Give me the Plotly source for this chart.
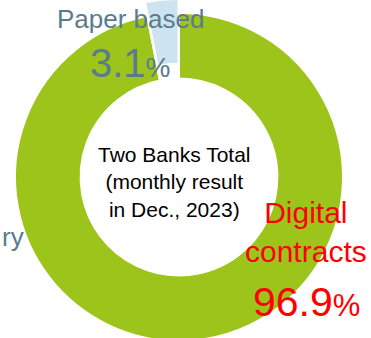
import plotly.graph_objects as go

# ---------------------------------------------
# data
# ---------------------------------------------
labels = ["Digital contracts", "Paper based"]
values = [96.9, 3.1]
colors = ["#9dc41b", "#cde3f0"]

W, H = 371, 346


def px(x):
    return x / W


def py(y):
    return 1 - y / H


fig = go.Figure()

# main ring (paper slice left empty, it is drawn pulled out below)
fig.add_trace(
    go.Pie(
        labels=labels,
        values=values,
        sort=False,
        direction="clockwise",
        rotation=0,
        hole=0.6,
        marker=dict(colors=[colors[0], "rgba(0,0,0,0)"],
                    line=dict(color="white", width=2)),
        textinfo="none",
        hoverinfo="label+percent",
        showlegend=False,
        domain=dict(x=[px(179 - 164), px(179 + 164)], y=[py(341), py(13)]),
    )
)

# pulled-out paper slice
fig.add_trace(
    go.Pie(
        labels=labels,
        values=values,
        sort=False,
        direction="clockwise",
        rotation=0,
        hole=0.61,
        marker=dict(colors=["rgba(0,0,0,0)", colors[1]],
                    line=dict(color="rgba(0,0,0,0)", width=0)),
        textinfo="none",
        hoverinfo="label+percent",
        showlegend=False,
        domain=dict(x=[px(177.5 - 161), px(177.5 + 161)], y=[py(322), 1]),
    )
)

font = "Liberation Sans, Arial, sans-serif"
grey = "#5a7b8e"

fig.add_annotation(
    x=px(174), y=py(182), xref="paper", yref="paper",
    text="Two Banks Total<br>(monthly result<br>in Dec., 2023)",
    showarrow=False, font=dict(family=font, size=21, color="black"),
    xanchor="center", yanchor="middle",
)
fig.add_annotation(
    x=px(130.5), y=py(19), xref="paper", yref="paper",
    text="Paper based",
    showarrow=False, font=dict(family=font, size=26, color=grey),
    xanchor="center", yanchor="middle",
)
fig.add_annotation(
    x=px(130.5), y=py(63), xref="paper", yref="paper",
    text="3.1<span style='font-size:28px'>%</span>",
    showarrow=False, font=dict(family=font, size=40, color=grey),
    xanchor="center", yanchor="middle",
)
fig.add_annotation(
    x=px(0), y=py(237), xref="paper", yref="paper",
    text="ry",
    showarrow=False, font=dict(family=font, size=26, color=grey),
    xanchor="left", yanchor="middle",
)
fig.add_annotation(
    x=px(306), y=py(232), xref="paper", yref="paper",
    text="Digital<br>contracts",
    showarrow=False, font=dict(family=font, size=30, color="red"),
    xanchor="center", yanchor="middle",
)
fig.add_annotation(
    x=px(306), y=py(302), xref="paper", yref="paper",
    text="96.9<span style='font-size:31px'>%</span>",
    showarrow=False, font=dict(family=font, size=41, color="red"),
    xanchor="center", yanchor="middle",
)

fig.update_layout(
    width=W,
    height=H,
    margin=dict(l=0, r=0, t=0, b=0),
    paper_bgcolor="white",
    plot_bgcolor="white",
)

# page body has a default 8px margin; drop it so the figure sits at 0,0
fig.write_html(
    "out.html",
    config={"displayModeBar": False},
    post_script="document.body.style.margin='0';document.body.style.overflow='hidden';",
)
